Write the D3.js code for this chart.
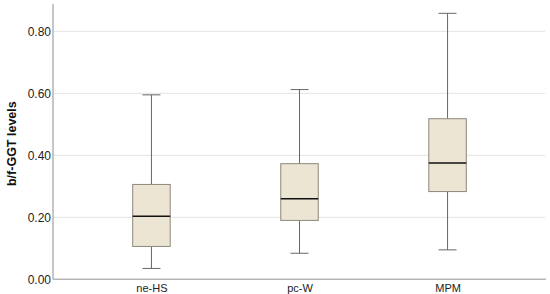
<!DOCTYPE html>
<html><head><meta charset="utf-8">
<script src="https://cdn.jsdelivr.net/npm/d3@7"></script>
<style>body{margin:0;background:#fff}svg{display:block;font-family:"Liberation Sans",Arial,sans-serif}</style>
</head><body><svg id="c" width="550" height="294"></svg>
<script>
const categories = ["ne-HS", "pc-W", "MPM"];
const whiskerLow = [0.035, 0.084, 0.095];
const q1 = [0.106, 0.190, 0.283];
const median = [0.203, 0.260, 0.375];
const q3 = [0.306, 0.373, 0.518];
const whiskerHigh = [0.595, 0.612, 0.858];
const yTicks = [0, 0.2, 0.4, 0.6, 0.8];
const yLabel = "b/f-GGT levels";

const svg = d3.select("#c");
const x0 = 53, x1 = 546, yTop = 4, yBot = 279.3;
const x = d3.scalePoint().domain(categories).range([x0, x1]).padding(0.665);
const y = d3.scaleLinear().domain([0, 0.8]).range([yBot, yBot - 0.8 * 310]);

// gridlines
svg.append("g").selectAll("line").data(yTicks.filter(d => d > 0)).join("line")
  .attr("x1", x0).attr("x2", 545).attr("y1", d => y(d)).attr("y2", d => y(d))
  .attr("stroke", "#e3e3e3").attr("stroke-width", 1);

// y axis
const yAxis = svg.append("g").attr("transform", `translate(${x0},0)`)
  .call(d3.axisLeft(y).tickValues(yTicks).tickFormat(d3.format(".2f")).tickSize(0).tickPadding(2));
yAxis.select(".domain").remove();
yAxis.selectAll("text").attr("font-size", 12).attr("fill", "#222").attr("font-family", "Liberation Sans, Arial, sans-serif");
svg.append("line").attr("x1", x0).attr("x2", x0).attr("y1", yTop).attr("y2", yBot)
  .attr("stroke", "#b5b5b5").attr("stroke-width", 1.5);

// x axis
const xAxis = svg.append("g").attr("transform", `translate(0,${yBot})`)
  .call(d3.axisBottom(x).tickSize(0).tickPadding(5));
xAxis.select(".domain").remove();
xAxis.selectAll("text").attr("font-size", 11).attr("fill", "#222").attr("font-family", "Liberation Sans, Arial, sans-serif");
svg.append("line").attr("x1", x0).attr("x2", x1).attr("y1", yBot).attr("y2", yBot)
  .attr("stroke", "#b5b5b5").attr("stroke-width", 1.5);

// y label
svg.append("text").attr("transform", `translate(16,${(yTop + yBot) / 2 + 2}) rotate(-90)`)
  .attr("text-anchor", "middle").attr("font-size", 12.5).attr("font-weight", "bold").attr("fill", "#111")
  .text(yLabel);

// boxes
const boxW = 37.5, capW = 18;
const g = svg.append("g");
categories.forEach((c, i) => {
  const cx = x(c);
  g.append("line").attr("x1", cx).attr("x2", cx).attr("y1", y(whiskerHigh[i])).attr("y2", y(q3[i])).attr("stroke", "#666");
  g.append("line").attr("x1", cx).attr("x2", cx).attr("y1", y(q1[i])).attr("y2", y(whiskerLow[i])).attr("stroke", "#666");
  g.append("line").attr("x1", cx - capW / 2).attr("x2", cx + capW / 2).attr("y1", y(whiskerHigh[i])).attr("y2", y(whiskerHigh[i])).attr("stroke", "#666");
  g.append("line").attr("x1", cx - capW / 2).attr("x2", cx + capW / 2).attr("y1", y(whiskerLow[i])).attr("y2", y(whiskerLow[i])).attr("stroke", "#666");
  g.append("rect").attr("x", cx - boxW / 2).attr("width", boxW)
    .attr("y", y(q3[i])).attr("height", y(q1[i]) - y(q3[i]))
    .attr("fill", "#ece5d3").attr("stroke", "#8c887c").attr("stroke-width", 1);
  g.append("line").attr("x1", cx - boxW / 2).attr("x2", cx + boxW / 2).attr("y1", y(median[i])).attr("y2", y(median[i]))
    .attr("stroke", "#111").attr("stroke-width", 1.5);
});
</script></body></html>
